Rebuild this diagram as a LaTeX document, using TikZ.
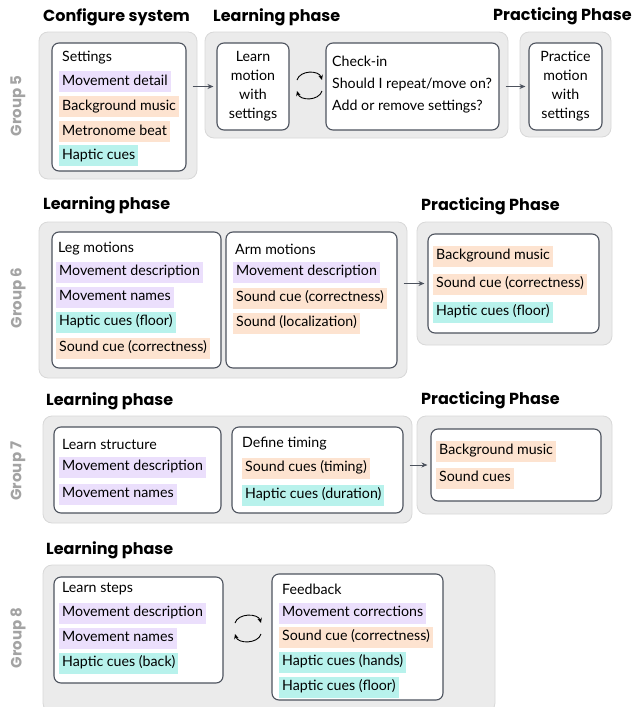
\documentclass[tikz,border=0pt]{standalone}
\usepackage{fontspec}
\setmainfont{Lato}
\newfontfamily\titlefont{Poppins}
\usetikzlibrary{arrows.meta}

\definecolor{hlpurple}{HTML}{EBDFFC}
\definecolor{hlpeach}{HTML}{FDE3D0}
\definecolor{hlcyan}{HTML}{B8F2EC}
\definecolor{outerfill}{HTML}{EBEBEB}
\definecolor{outerline}{HTML}{D8D8D8}
\definecolor{boxline}{HTML}{4D535E}
\definecolor{grouptext}{HTML}{A3A3A3}

\tikzset{
  outer/.style={draw=outerline, fill=outerfill, rounded corners=9pt, line width=0.8pt, inner sep=0pt},
  inbox/.style={draw=boxline, fill=white, rounded corners=7pt, line width=1.1pt, inner sep=0pt},
  title/.style={anchor=west, inner sep=0pt, font=\titlefont\fontsize{16}{20}\selectfont\bfseries},
  grouplbl/.style={rotate=90, text=grouptext, font=\titlefont\fontsize{15}{20}\selectfont\bfseries},
  lbl/.style={anchor=west, inner sep=0pt, font=\fontsize{14.2}{16}\selectfont},
  hl/.style={anchor=west, inner xsep=3pt, inner ysep=0pt, minimum height=21pt,
    text height=10.5pt, text depth=3pt, font=\fontsize{14.2}{16}\selectfont},
  arr/.style={draw=boxline, line width=0.9pt, -{Stealth[length=6pt,width=5pt]},
    shorten <=6pt, shorten >=3pt},
  cyc/.style={draw=black, line width=0.9pt, -{Stealth[length=5pt,width=4.5pt]}}
}

\begin{document}
\begin{tikzpicture}[x=1pt,y=-1pt]
\useasboundingbox (0,0) rectangle (636,707);

% Group 5
\node[title] (t5a) at (43,17.5) {Configure system};
\node[title] (t5b) at (213,17.5) {Learning phase};
\node[title] (t5c) at (493,16.5) {Practicing Phase};
\node[grouplbl] (g5) at (18,106) {Group 5};

\node[outer, minimum width=158, minimum height=147] (o5a) at (118,105.5) {};
\node[outer, minimum width=303, minimum height=106] (o5b) at (356.5,85) {};
\node[outer, minimum width=91, minimum height=105] (o5c) at (565.5,84.5) {};

\node[inbox, minimum width=134, minimum height=128] (set) at (119,107) {};
\node[inbox, minimum width=72, minimum height=87, align=center,
  font=\fontsize{14.2}{19}\selectfont] (learn) at (253,86.5) {Learn\\motion\\with\\settings};
\node[inbox, minimum width=173, minimum height=87] (check) at (412.5,86.5) {};
\node[inbox, minimum width=73, minimum height=87, align=center,
  font=\fontsize{14.2}{19}\selectfont] (prac) at (565.5,86.5) {Practice\\motion\\with\\settings};

\node[lbl] (s0) at (62,58) {Settings};
\node[hl, fill=hlpurple] (s1) at (59,81.5) {Movement detail};
\node[hl, fill=hlpeach] (s2) at (59,106.5) {Background music};
\node[hl, fill=hlpeach] (s3) at (59,131.5) {Metronome beat};
\node[hl, fill=hlcyan] (s4) at (59,155.5) {Haptic cues};

\node[lbl] (c0) at (332,61) {Check-in};
\node[lbl] (c1) at (332,84) {Should I repeat/move on?};
\node[lbl] (c2) at (332,107) {Add or remove settings?};

\coordinate (r5a) at (297,80);
\coordinate (r5b) at (322,80);
\coordinate (r5c) at (322,91);
\coordinate (r5d) at (297,91);
\path[cyc] (r5a) .. controls (300,70) and (319,70) .. (r5b);
\path[cyc] (r5c) .. controls (319,101) and (300,101) .. (r5d);

\path[arr] (set.east |- learn.west) -- (learn.west);
\path[arr] (check.east) -- (prac.west);

% Group 6
\node[title] (t6a) at (43,205.5) {Learning phase};
\node[title] (t6b) at (421,206.5) {Practicing Phase};
\node[grouplbl] (g6) at (18,298) {Group 6};

\node[outer, minimum width=368, minimum height=156] (o6a) at (223,300) {};
\node[outer, minimum width=195, minimum height=123] (o6b) at (514.5,283.5) {};

\node[inbox, minimum width=169, minimum height=136] (leg) at (136.5,300) {};
\node[inbox, minimum width=171, minimum height=136] (arm) at (311.5,300) {};
\node[inbox, minimum width=171, minimum height=99] (p6) at (513.5,283.5) {};

\node[lbl] (l0) at (58,249) {Leg motions};
\node[hl, fill=hlpurple] (l1) at (56,272) {Movement description};
\node[hl, fill=hlpurple] (l2) at (56,297) {Movement names};
\node[hl, fill=hlcyan] (l3) at (56,322) {Haptic cues (floor)};
\node[hl, fill=hlpeach] (l4) at (56,348) {Sound cue (correctness)};

\node[lbl] (a0) at (235,249) {Arm motions};
\node[hl, fill=hlpurple] (a1) at (233,272) {Movement description};
\node[hl, fill=hlpeach] (a2) at (233,298) {Sound cue (correctness)};
\node[hl, fill=hlpeach] (a3) at (233,323) {Sound (localization)};

\node[hl, fill=hlpeach] (q1) at (433,256) {Background music};
\node[hl, fill=hlpeach] (q2) at (433,284) {Sound cue (correctness)};
\node[hl, fill=hlcyan] (q3) at (433,312) {Haptic cues (floor)};

\path[arr] (arm.east |- p6.west) -- (p6.west);

% Group 7
\node[title] (t7a) at (46,401.5) {Learning phase};
\node[title] (t7b) at (421,400.5) {Practicing Phase};
\node[grouplbl] (g7) at (18,471) {Group 7};

\node[outer, minimum width=369, minimum height=107] (o7a) at (227.5,469.5) {};
\node[outer, minimum width=195, minimum height=98] (o7b) at (514.5,465) {};

\node[inbox, minimum width=167, minimum height=86] (ls) at (137.5,470) {};
\node[inbox, minimum width=171, minimum height=86] (dt) at (317.5,470) {};
\node[inbox, minimum width=170, minimum height=72] (p7) at (516,465) {};

\node[lbl] (m0) at (62,444) {Learn structure};
\node[hl, fill=hlpurple] (m1) at (59,467) {Movement description};
\node[hl, fill=hlpurple] (m2) at (59,494) {Movement names};

\node[lbl] (d0) at (242,444) {Define timing};
\node[hl, fill=hlpeach] (d1) at (242,468) {Sound cues (timing)};
\node[hl, fill=hlcyan] (d2) at (242,495) {Haptic cues (duration)};

\node[hl, fill=hlpeach] (u1) at (436,451) {Background music};
\node[hl, fill=hlpeach] (u2) at (436,478) {Sound cues};

\path[arr] (dt.east |- p7.west) -- (p7.west);

% Group 8
\node[title] (t8a) at (46,550.5) {Learning phase};
\node[grouplbl] (g8) at (18,638) {Group 8};

\node[outer, minimum width=452, minimum height=147] (o8) at (269,638.5) {};

\node[inbox, minimum width=169, minimum height=106] (lst) at (138.5,630) {};
\node[inbox, minimum width=171, minimum height=126] (fb) at (357.5,637) {};

\node[lbl] (k0) at (62,589) {Learn steps};
\node[hl, fill=hlpurple] (k1) at (59,613) {Movement description};
\node[hl, fill=hlpurple] (k2) at (59,638) {Movement names};
\node[hl, fill=hlcyan] (k3) at (59,663) {Haptic cues (back)};

\node[lbl] (f0) at (282,589) {Feedback};
\node[hl, fill=hlpurple] (f1) at (279,613) {Movement corrections};
\node[hl, fill=hlpeach] (f2) at (279,637) {Sound cue (correctness)};
\node[hl, fill=hlcyan] (f3) at (279,662) {Haptic cues (hands)};
\node[hl, fill=hlcyan] (f4) at (279,687) {Haptic cues (floor)};

\coordinate (r8a) at (235,623);
\coordinate (r8b) at (261,623);
\coordinate (r8c) at (261,634);
\coordinate (r8d) at (235,634);
\path[cyc] (r8a) .. controls (238,613) and (258,613) .. (r8b);
\path[cyc] (r8c) .. controls (258,644) and (238,644) .. (r8d);
\end{tikzpicture}
\end{document}
